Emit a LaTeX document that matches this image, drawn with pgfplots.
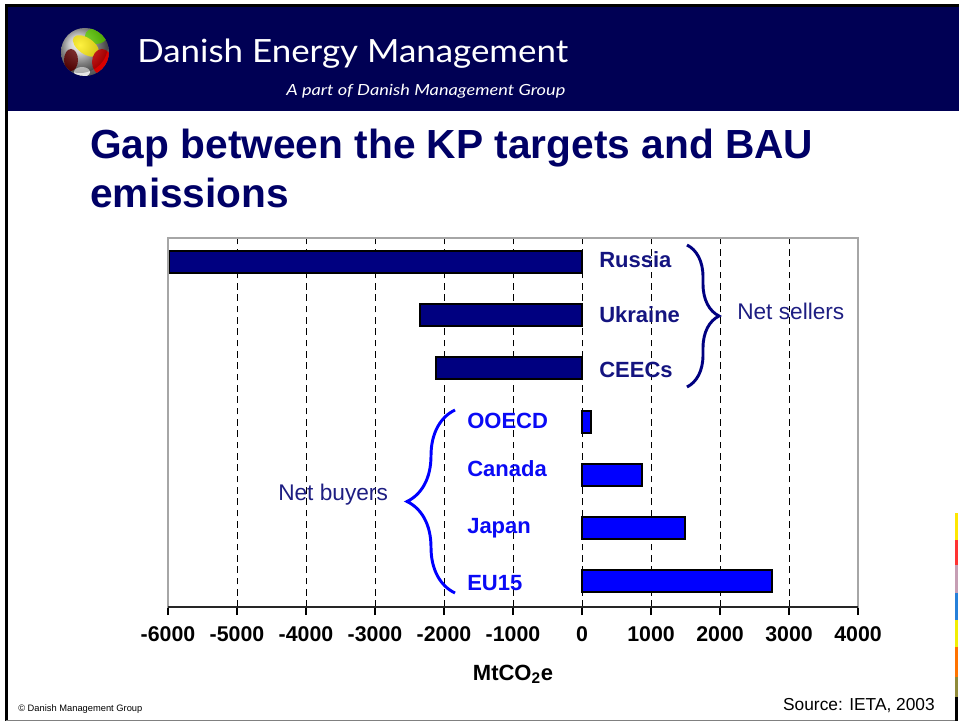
\documentclass[border=0pt]{standalone}
\usepackage{pgfplots}
\pgfplotsset{compat=1.18}
\usepackage{fontspec}
\usepackage{graphicx}
\setmainfont{Liberation Sans}
\newfontfamily\lato{Lato}
\usetikzlibrary{decorations.pathreplacing}
\definecolor{band}{RGB}{0,0,84}
\definecolor{navyb}{RGB}{0,0,128}
\definecolor{titlec}{RGB}{0,0,102}
\definecolor{netc}{RGB}{30,30,130}
\definecolor{sellc}{RGB}{20,20,128}
\definecolor{buyc}{RGB}{10,10,245}
\definecolor{bluebar}{RGB}{0,0,255}
\begin{document}
\begin{tikzpicture}
\useasboundingbox (0,0) rectangle (719.25pt,-542.25pt);
\begin{scope}[x=0.75pt,y=-0.75pt]
% header band and frame
\fill[band] (6,7) rectangle (959,111);
\fill[black] (5,4) rectangle (959,7);
\fill[black] (5,4) rectangle (7.5,721);
\draw[gray, line width=0.8pt] (6,720.5) -- (957,720.5);
% right colour strip
\fill[yellow!90!orange] (954.5,513) rectangle (957.5,540);
\fill[red!80!white] (954.5,540) rectangle (957.5,565);
\fill[magenta!30!gray!70!white] (954.5,565) rectangle (957.5,593);
\fill[blue!50!cyan!70!gray] (954.5,593) rectangle (957.5,620);
\fill[yellow!95!green] (954.5,620) rectangle (957.5,647);
\fill[orange!90!red] (954.5,647) rectangle (957.5,677);
\fill[olive!60!gray] (954.5,677) rectangle (957.5,697);
\fill[black] (954.5,697) rectangle (957.5,721);
% logo
\begin{scope}
\clip (85,52) circle (24);
\shade[ball color=gray!40] (85,52) circle (24);
\fill[green!55!yellow!85!black] (96,36) ellipse (11 and 8);
\fill[yellow!95!orange, rotate around={-35:(86,46)}] (86,46) ellipse (15 and 8);
\fill[red!85!black] (102,62) ellipse (10 and 13);
\fill[red!40!black] (71,60) ellipse (7 and 11);
\fill[gray!20] (82,72) ellipse (8 and 5);
\shade[inner color=white, outer color=black, opacity=0.25] (80,45) circle (28);
\end{scope}
% header texts
\node[anchor=base west, inner sep=0, text=white] at (137,63) {\resizebox{323.25pt}{\height}{\lato\fontsize{24}{28}\selectfont Danish Energy Management}};
\node[anchor=base west, inner sep=0, text=white] at (286,96) {\resizebox{209.25pt}{\height}{\lato\itshape\fontsize{11.5}{14}\selectfont A part of Danish Management Group}};
% title
\node[anchor=base west, inner sep=0, text=titlec, font=\fontsize{30.5}{36}\selectfont\bfseries] at (90,159) {Gap between the KP targets and BAU};
\node[anchor=base west, inner sep=0, text=titlec, font=\fontsize{30.5}{36}\selectfont\bfseries] at (90,208) {emissions};
\end{scope}

\begin{axis}[
  at={(126pt,-455.25pt)}, anchor=south west,
  scale only axis, width=517.5pt, height=276.75pt,
  xmin=-6000, xmax=4000, ymin=-607, ymax=-238,
  xtick={-6000,-5000,...,4000}, ytick=\empty,
  xtick pos=bottom, tick align=outside, major tick length=6pt,
  xmajorgrids, grid style={black, line width=0.7pt, dash pattern=on 5pt off 3.5pt},
  axis line style={draw=none},
  tick style={black, line width=0.9pt},
  xticklabel style={font=\fontsize{16}{18}\selectfont\bfseries, yshift=-5pt},
  /pgf/number format/assume math mode=true,
  /pgf/number format/set thousands separator={},
  clip=false,
]
\addplot[xbar, bar width=16.5pt, bar shift=0pt, fill=navyb, draw=black, line width=1.2pt]
  coordinates {(-5985,-262) (-2350,-315) (-2120,-368)};
\addplot[xbar, bar width=16.5pt, bar shift=0pt, fill=bluebar, draw=black, line width=1.2pt]
  coordinates {(130,-422) (870,-475) (1490,-528) (2750,-581)};
\draw[gray!70, line width=1pt] (rel axis cs:0,0) rectangle (rel axis cs:1,1);
\draw[black!85, line width=1.6pt] (rel axis cs:0,0) -- (rel axis cs:1,0);
\end{axis}

\begin{scope}[x=0.75pt,y=-0.75pt]
% category labels
\begin{scope}[every node/.style={anchor=base west, inner sep=0, font=\fontsize{16.5}{20}\selectfont\bfseries}]
\node[text=sellc] at (599,268) {Russia};
\node[text=sellc] at (599,322) {Ukraine};
\node[text=sellc] at (599,377) {CEECs};
\node[text=buyc] at (467,428) {OOECD};
\node[text=buyc] at (467,476) {Canada};
\node[text=buyc] at (467,533) {Japan};
\node[text=buyc] at (467,590) {EU15};
\end{scope}
\node[anchor=base west, inner sep=0, text=netc, font=\fontsize{17}{20}\selectfont] at (737,320) {Net sellers};
\node[anchor=base west, inner sep=0, text=netc, font=\fontsize{17}{20}\selectfont] at (278,500) {Net buyers};
% braces
\draw[navyb, line width=2.2pt, decorate, decoration={brace, amplitude=24pt}] (687,245) -- (687,387);
\draw[bluebar, line width=2.2pt, decorate, decoration={brace, amplitude=36pt}] (455,593) -- (455,410);
% axis title
\node[anchor=base, inner sep=0, font=\fontsize{16.5}{20}\selectfont\bfseries] at (513,680) {MtCO\textsubscript{2}e};
% footer
\node[anchor=base west, inner sep=0, font=\fontsize{7}{8}\selectfont] at (18,711) {\textcopyright{} Danish Management Group};
\node[anchor=base east, inner sep=0, font=\fontsize{13}{15}\selectfont] at (935,710) {Source: IETA, 2003};
\end{scope}
\end{tikzpicture}
\end{document}
